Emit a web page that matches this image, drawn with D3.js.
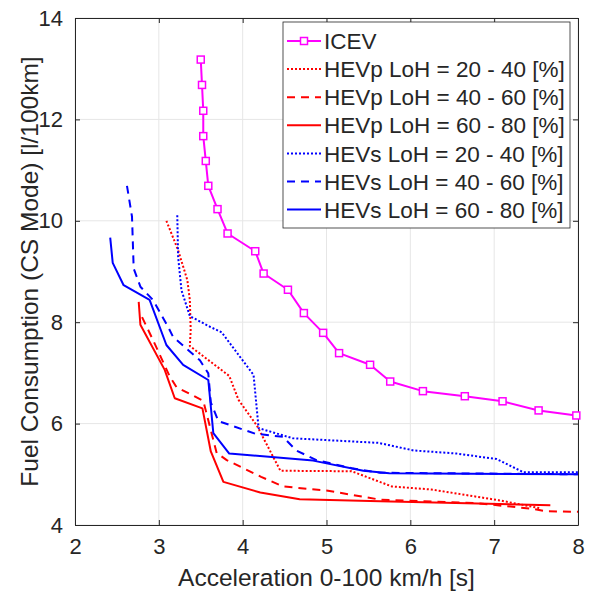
<!DOCTYPE html>
<html>
<head>
<meta charset="utf-8">
<script src="https://cdn.jsdelivr.net/npm/d3@7"></script>
<style>
  body { margin: 0; background: #fff; }
  svg text { font-family: "Liberation Sans", Arial, sans-serif; fill: #262626; }
</style>
</head>
<body>
<svg id="chart" width="595" height="594"></svg>
<script>
/* ---------- data ---------- */
const xTicks = [2, 3, 4, 5, 6, 7, 8];
const yTicks = [4, 6, 8, 10, 12, 14];

const icev = [[3.50,13.18],[3.515,12.68],[3.53,12.17],[3.53,11.67],[3.56,11.18],[3.59,10.69],[3.70,10.23],[3.82,9.75],
  [4.15,9.40],[4.25,8.96],[4.54,8.64],[4.73,8.18],[4.96,7.79],[5.15,7.39],[5.52,7.16],[5.76,6.83],
  [6.15,6.64],[6.65,6.54],[7.10,6.44],[7.53,6.26],[7.98,6.16]];

const hevp2040 = [[3.09,10.0],[3.23,9.42],[3.34,8.83],[3.37,8.44],[3.38,7.85],[3.37,7.53],[3.84,6.94],[3.95,6.47],
  [4.17,5.96],[4.45,5.07],[5.30,5.06],[5.78,4.76],[6.25,4.70],[7.05,4.49],[7.55,4.33]];
const hevp4060 = [[2.80,8.10],[2.93,7.65],[3.13,6.93],[3.21,6.72],[3.53,6.45],[3.69,5.42],[3.81,5.28],[4.22,4.95],
  [4.48,4.76],[5.00,4.68],[5.64,4.50],[6.80,4.43],[7.45,4.32],[7.63,4.27],[8.00,4.26]];
const hevp6080 = [[2.76,8.40],[2.78,7.95],[3.07,7.06],[3.19,6.50],[3.52,6.30],[3.62,5.45],[3.77,4.85],[4.21,4.64],
  [4.68,4.51],[5.64,4.47],[7.67,4.39]];

const hevs2040 = [[3.22,10.11],[3.23,9.29],[3.27,8.63],[3.37,8.12],[3.61,7.91],[3.75,7.80],[4.13,6.96],[4.19,5.91],
  [4.60,5.71],[5.62,5.62],[6.04,5.47],[6.55,5.41],[7.03,5.30],[7.35,5.04],[8.00,5.04]];
const hevs4060 = [[2.62,10.69],[2.68,10.08],[2.70,9.06],[2.78,8.70],[2.93,8.44],[3.11,7.91],[3.17,7.71],[3.49,7.25],
  [3.59,6.99],[3.62,6.42],[3.71,6.05],[4.15,5.80],[4.48,5.74],[4.64,5.47],[4.88,5.28],[5.30,5.12],[5.64,5.03],[8.00,5.00]];
const hevs6080 = [[2.42,9.67],[2.45,9.17],[2.58,8.73],[2.89,8.44],[3.09,7.55],[3.29,7.16],[3.59,6.86],[3.65,5.81],
  [3.84,5.41],[4.84,5.27],[5.44,5.07],[5.75,5.02],[8.00,5.00]];

const seriesNames = ["ICEV",
  "HEVp LoH = 20 - 40 [%]", "HEVp LoH = 40 - 60 [%]", "HEVp LoH = 60 - 80 [%]",
  "HEVs LoH = 20 - 40 [%]", "HEVs LoH = 40 - 60 [%]", "HEVs LoH = 60 - 80 [%]"];
const seriesValues = [icev, hevp2040, hevp4060, hevp6080, hevs2040, hevs4060, hevs6080];
const seriesColors = ["#ff00ff", "#ff0000", "#ff0000", "#ff0000", "#0000ff", "#0000ff", "#0000ff"];
const seriesDash = [null, "2,2", "8,6", null, "2,2", "8,6", null];

/* ---------- layout ---------- */
const svg = d3.select("#chart");
const margin = { left: 75, right: 17, top: 18, bottom: 69 };
const width = 595 - margin.left - margin.right;
const height = 594 - margin.top - margin.bottom;

const x = d3.scaleLinear().domain([2, 8]).range([0, width]);
const y = d3.scaleLinear().domain([4, 14]).range([height, 0]);

const g = svg.append("g").attr("transform", `translate(${margin.left},${margin.top})`);

// grid
g.append("g").selectAll("line").data(xTicks).join("line")
  .attr("x1", d => x(d)).attr("x2", d => x(d)).attr("y1", 0).attr("y2", height)
  .attr("stroke", "#e6e6e6").attr("stroke-width", 1);
g.append("g").selectAll("line").data(yTicks).join("line")
  .attr("y1", d => y(d)).attr("y2", d => y(d)).attr("x1", 0).attr("x2", width)
  .attr("stroke", "#e6e6e6").attr("stroke-width", 1);

// axes (ticks inward on all four sides)
const tickLen = 5;
const fmt = d3.format("d");
const styleAxis = sel => {
  sel.selectAll("path").attr("stroke", "#262626");
  sel.selectAll("line").attr("stroke", "#262626");
  sel.selectAll("text").style("font-size", "22px").attr("fill", "#262626");
};
g.append("g").attr("transform", `translate(0,${height})`)
  .call(d3.axisBottom(x).tickValues(xTicks).tickFormat(fmt).tickSizeInner(-tickLen).tickSizeOuter(0).tickPadding(13))
  .call(styleAxis);
g.append("g")
  .call(d3.axisTop(x).tickValues(xTicks).tickSizeInner(-tickLen).tickSizeOuter(0).tickFormat(""))
  .call(styleAxis);
g.append("g")
  .call(d3.axisLeft(y).tickValues(yTicks).tickFormat(fmt).tickSizeInner(-tickLen).tickSizeOuter(0).tickPadding(12))
  .call(styleAxis);
g.append("g").attr("transform", `translate(${width},0)`)
  .call(d3.axisRight(y).tickValues(yTicks).tickSizeInner(-tickLen).tickSizeOuter(0).tickFormat(""))
  .call(styleAxis);

// lines
const line = d3.line().x(d => x(d[0])).y(d => y(d[1]));
g.append("clipPath").attr("id", "plotclip").append("rect")
  .attr("width", width).attr("height", height);
const plot = g.append("g").attr("clip-path", "url(#plotclip)");

seriesValues.forEach((vals, i) => {
  plot.append("path").datum(vals)
    .attr("d", line)
    .attr("fill", "none")
    .attr("stroke", seriesColors[i])
    .attr("stroke-width", 2)
    .attr("stroke-dasharray", seriesDash[i])
    .attr("stroke-linejoin", "round");
});

// ICEV square markers
g.append("g").selectAll("rect").data(icev).join("rect")
  .attr("x", d => x(d[0]) - 3.5).attr("y", d => y(d[1]) - 3.5)
  .attr("width", 7).attr("height", 7)
  .attr("fill", "#fff").attr("stroke", "#ff00ff").attr("stroke-width", 1.5);

// legend
const lg = g.append("g").attr("transform", `translate(${283 - margin.left},${22 - margin.top})`);
lg.append("rect").attr("width", 287).attr("height", 206)
  .attr("fill", "#fff").attr("stroke", "#262626").attr("stroke-width", 0.8);
const rowY = i => 19 + i * 28.1;
seriesNames.forEach((name, i) => {
  lg.append("line")
    .attr("x1", 4).attr("x2", 38).attr("y1", rowY(i)).attr("y2", rowY(i))
    .attr("stroke", seriesColors[i]).attr("stroke-width", 2)
    .attr("stroke-dasharray", seriesDash[i]);
  if (i === 0) {
    lg.append("rect").attr("x", 21 - 3.5).attr("y", rowY(i) - 3.5).attr("width", 7).attr("height", 7)
      .attr("fill", "#fff").attr("stroke", "#ff00ff").attr("stroke-width", 1.5);
  }
  lg.append("text").attr("x", 41).attr("y", rowY(i)).attr("dy", "0.36em")
    .style("font-size", "22.5px").text(name);
});

// axis labels
svg.append("text")
  .attr("x", margin.left + width / 2).attr("y", 586)
  .attr("text-anchor", "middle").style("font-size", "24.5px")
  .text("Acceleration 0-100 km/h [s]");
svg.append("text")
  .attr("transform", `translate(38,${margin.top + height / 2}) rotate(-90)`)
  .attr("text-anchor", "middle").style("font-size", "24.5px")
  .text("Fuel Consumption (CS Mode) [l/100km]");
</script>
</body>
</html>
